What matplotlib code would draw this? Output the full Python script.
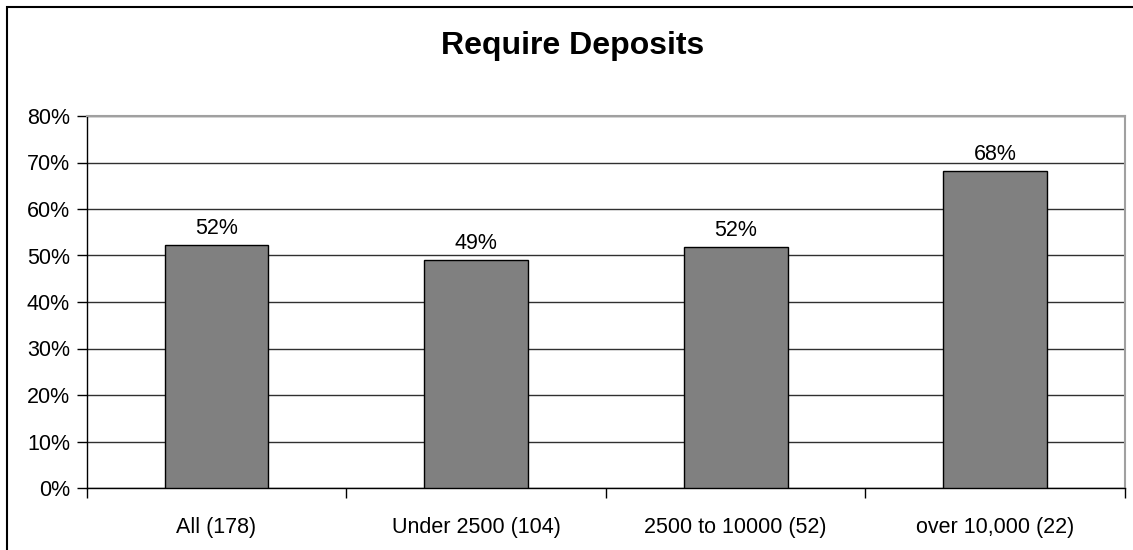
import matplotlib.pyplot as plt
from matplotlib.patches import Rectangle
from matplotlib.ticker import PercentFormatter, MultipleLocator

categories = ['All (178)', 'Under 2500 (104)', '2500 to 10000 (52)', 'over 10,000 (22)']
values = [52.2, 49.0, 51.9, 68.2]
labels = ['52%', '49%', '52%', '68%']

plt.rcParams['font.family'] = ['Liberation Sans', 'DejaVu Sans']

W, H = 1133, 550
fig = plt.figure(figsize=(W / 100, H / 100), dpi=100)
ax = fig.add_axes([86.7 / W, 1 - 488 / H, (1125 - 86.7) / W, (488 - 116) / H])

# outer chart border
fig.patches.append(Rectangle((7 / W, -0.1), 1.2, 1 - 7 / H + 0.1, transform=fig.transFigure,
                             fill=False, edgecolor='black', linewidth=1.5))

x = range(len(categories))
ax.bar(x, values, width=0.4, color='#808080', edgecolor='black', linewidth=1, zorder=3)
for xi, v, lab in zip(x, values, labels):
    ax.text(xi, v + 1.3, lab, ha='center', va='bottom', fontsize=15.5)

ax.set_xlim(-0.5, len(categories) - 0.5)
ax.set_ylim(0, 80)
ax.yaxis.set_major_locator(MultipleLocator(10))
ax.yaxis.set_major_formatter(PercentFormatter(decimals=0))
ax.grid(axis='y', color='#303030', linewidth=1, zorder=1)

ax.set_xticks(list(x))
ax.set_xticklabels(categories, fontsize=15.5)
ax.set_xticks([i - 0.5 for i in range(len(categories) + 1)], minor=True)
ax.tick_params(axis='x', which='major', length=0, pad=21)
ax.tick_params(axis='x', which='minor', length=7, width=1, direction='out')
ax.tick_params(axis='y', length=7, width=1, labelsize=15.5, pad=5)

for side in ['top', 'right']:
    ax.spines[side].set_color('#a0a0a0')
    ax.spines[side].set_linewidth(1.5)
for side in ['left', 'bottom']:
    ax.spines[side].set_color('black')
    ax.spines[side].set_linewidth(1)

fig.text(573 / W, 1 - 46 / H, 'Require Deposits', ha='center', va='center',
         fontsize=23, fontweight='bold')

fig.savefig('out.png', dpi=100)
